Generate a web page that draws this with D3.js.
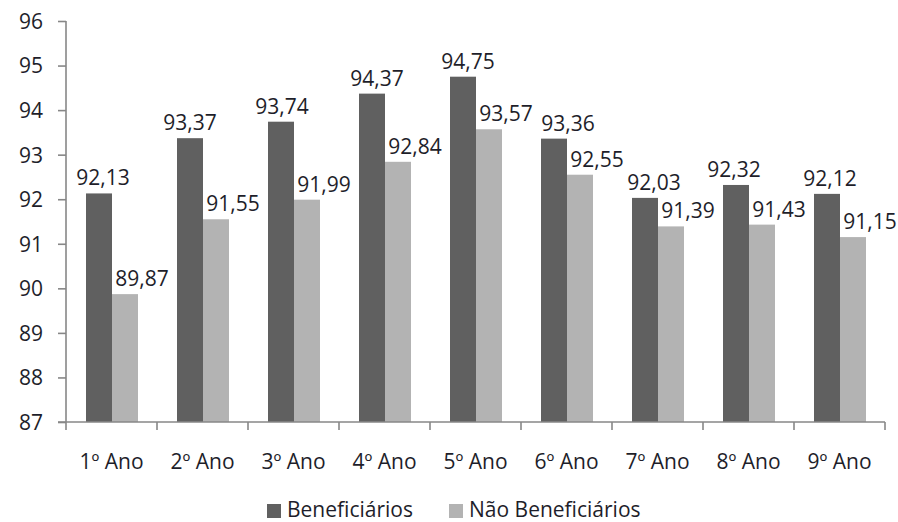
<!DOCTYPE html>
<html>
<head>
<meta charset="utf-8">
<script src="https://cdn.jsdelivr.net/npm/d3@7"></script>
<style>
  body { margin: 0; background: #fff; }
  svg text { font-family: "Open Sans", sans-serif; fill: #1e1e2a; }
</style>
</head>
<body>
<svg id="chart" width="898" height="522"></svg>
<script>
const categories = ['1º Ano', '2º Ano', '3º Ano', '4º Ano', '5º Ano', '6º Ano', '7º Ano', '8º Ano', '9º Ano'];
const seriesNames = ['Beneficiários', 'Não Beneficiários'];
const beneficiarios = [92.13, 93.37, 93.74, 94.37, 94.75, 93.36, 92.03, 92.32, 92.12];
const naoBeneficiarios = [89.87, 91.55, 91.99, 92.84, 93.57, 92.55, 91.39, 91.43, 91.15];
const yTicks = [87, 88, 89, 90, 91, 92, 93, 94, 95, 96];

const colors = ['#606060', '#b3b3b3'];
// horizontal nudges of the value labels, as placed in the original
const darkLabelNudge = [4, 0, 1, 5, 5, 14, 9, -2, 3];
const lightLabelNudge = 17;
const axisColor = '#878787';
const fontSize = '21px';

const svg = d3.select('#chart');
const plot = { left: 66, right: 885, top: 21, bottom: 422 };

const x0 = d3.scaleBand()
  .domain(categories)
  .range([plot.left, plot.right]);

const x1 = d3.scaleBand()
  .domain(seriesNames)
  .range([20, 72]);

const y = d3.scaleLinear()
  .domain([87, 96])
  .range([plot.bottom, plot.top]);

const rows = categories.map((c, i) => ({
  cat: c,
  vals: [
    { s: seriesNames[0], v: beneficiarios[i], k: 0, nudge: darkLabelNudge[i] },
    { s: seriesNames[1], v: naoBeneficiarios[i], k: 1, nudge: lightLabelNudge },
  ],
}));

// bars
const groups = svg.append('g')
  .selectAll('g')
  .data(rows)
  .join('g')
    .attr('transform', (d) => `translate(${x0(d.cat)},0)`);

groups.selectAll('rect')
  .data((d) => d.vals)
  .join('rect')
    .attr('x', (d) => x1(d.s))
    .attr('y', (d) => y(d.v))
    .attr('width', x1.bandwidth())
    .attr('height', (d) => plot.bottom - y(d.v))
    .attr('fill', (d) => colors[d.k]);

groups.selectAll('text')
  .data((d) => d.vals)
  .join('text')
    .attr('x', (d) => x1(d.s) + x1.bandwidth() / 2 + d.nudge)
    .attr('y', (d) => y(d.v) - 8)
    .attr('text-anchor', 'middle')
    .style('font-size', fontSize)
    .text((d) => d3.format('.2f')(d.v).replace('.', ','));

// y axis
const yAxis = svg.append('g')
  .attr('transform', `translate(${plot.left},0)`)
  .call(d3.axisLeft(y).tickValues(yTicks).tickSize(8).tickPadding(15).tickFormat(d3.format('d')));
yAxis.select('.domain').attr('stroke', axisColor).attr('stroke-width', 1.6)
  .attr('d', `M0,${plot.top}V${plot.bottom}`);
yAxis.selectAll('.tick line').attr('stroke', axisColor).attr('stroke-width', 1.6);
yAxis.selectAll('.tick text').style('font-size', fontSize).attr('dy', '0.35em');

// x axis, ticks between categories
const xAxis = svg.append('g')
  .attr('transform', `translate(0,${plot.bottom})`);
xAxis.append('line')
  .attr('x1', plot.left - 8).attr('x2', plot.right)
  .attr('stroke', axisColor).attr('stroke-width', 1.6);
xAxis.selectAll('line.tk')
  .data(categories.concat(['end']))
  .join('line')
    .attr('class', 'tk')
    .attr('x1', (d, i) => plot.left + i * x0.bandwidth())
    .attr('x2', (d, i) => plot.left + i * x0.bandwidth())
    .attr('y1', 0).attr('y2', 8)
    .attr('stroke', axisColor).attr('stroke-width', 1.6);
xAxis.selectAll('text')
  .data(categories)
  .join('text')
    .attr('x', (d) => x0(d) + x0.bandwidth() / 2)
    .attr('y', 47)
    .attr('text-anchor', 'middle')
    .style('font-size', fontSize)
    .text((d) => d);

// legend
const legendX = [267, 449];
const legend = svg.append('g')
  .selectAll('g')
  .data(seriesNames)
  .join('g')
    .attr('transform', (d, i) => `translate(${legendX[i]},503)`);
legend.append('rect')
  .attr('y', 1)
  .attr('width', 14).attr('height', 14)
  .attr('fill', (d, i) => colors[i]);
legend.append('text')
  .attr('x', 20).attr('y', 14)
  .style('font-size', fontSize)
  .text((d) => d);
</script>
</body>
</html>
